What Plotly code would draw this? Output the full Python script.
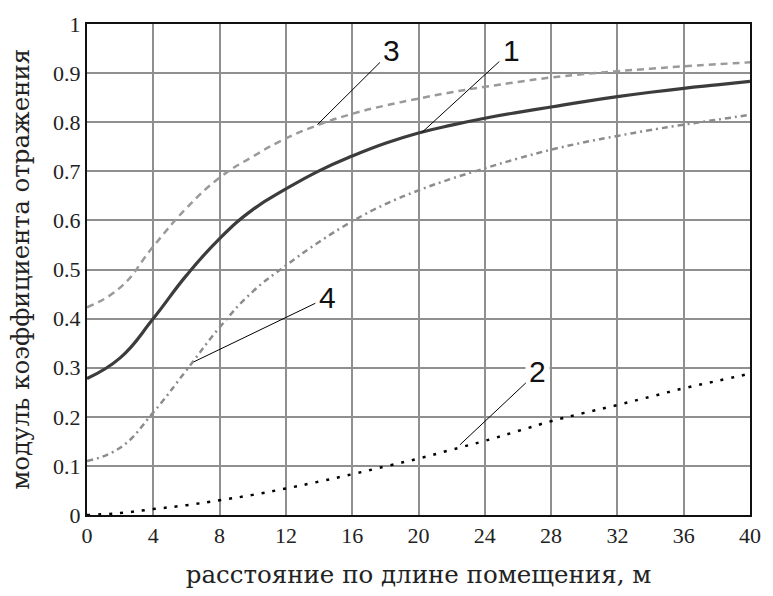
import plotly.graph_objects as go

x_m = [0, 2, 4, 6, 8, 10, 12, 14, 16, 18, 20, 22, 24, 26, 28, 30, 32, 34, 36, 38, 40]
curve1 = [0.278, 0.320, 0.40, 0.488, 0.563, 0.622, 0.664, 0.701, 0.731, 0.757, 0.778,
          0.794, 0.808, 0.820, 0.831, 0.842, 0.852, 0.861, 0.869, 0.876, 0.883]
curve2 = [0.0, 0.004, 0.012, 0.02, 0.03, 0.041, 0.054, 0.068, 0.083, 0.099, 0.115,
          0.133, 0.151, 0.171, 0.191, 0.208, 0.224, 0.241, 0.258, 0.273, 0.288]
curve3 = [0.423, 0.463, 0.547, 0.625, 0.687, 0.730, 0.767, 0.795, 0.817, 0.834, 0.848,
          0.861, 0.872, 0.882, 0.891, 0.898, 0.904, 0.909, 0.914, 0.918, 0.922]
curve4 = [0.110, 0.137, 0.209, 0.295, 0.382, 0.455, 0.508, 0.556, 0.598, 0.633, 0.661,
          0.685, 0.706, 0.726, 0.744, 0.759, 0.772, 0.784, 0.795, 0.805, 0.815]

x_ticks = [0, 4, 8, 12, 16, 20, 24, 28, 32, 36, 40]
y_ticks = [0, 0.1, 0.2, 0.3, 0.4, 0.5, 0.6, 0.7, 0.8, 0.9, 1]
y_tick_text = ["0", "0.1", "0.2", "0.3", "0.4", "0.5", "0.6", "0.7", "0.8", "0.9", "1"]

labels = ["1", "2", "3", "4"]
label_pts = [(20.2, 0.779), (22.5, 0.143), (13.9, 0.795), (6.45, 0.312)]
label_pos = [(25.6, 0.946), (27.2, 0.292), (18.4, 0.946), (14.5, 0.443)]

x_title = "расстояние по длине помещения, м"
y_title = "модуль коэффициента отражения"

fig = go.Figure()
fig.add_trace(go.Scatter(x=x_m, y=curve3, mode="lines",
                         line=dict(color="#9a9a9a", width=2.5, dash="7px,5px", shape="spline", smoothing=1.3)))
fig.add_trace(go.Scatter(x=x_m, y=curve4, mode="lines",
                         line=dict(color="#8c8c8c", width=2.5, dash="6px,4px,2px,4px", shape="spline", smoothing=1.3)))
fig.add_trace(go.Scatter(x=x_m, y=curve1, mode="lines",
                         line=dict(color="#3c3c3c", width=3.2, shape="spline", smoothing=1.3)))
fig.add_trace(go.Scatter(x=x_m, y=curve2, mode="lines",
                         line=dict(color="#000000", width=2.5, dash="3px,8px", shape="spline", smoothing=1.3)))

for t, (px, py), (ax, ay) in zip(labels, label_pts, label_pos):
    fig.add_annotation(x=px, y=py, ax=ax, ay=ay, axref="x", ayref="y", xref="x", yref="y",
                       text=t, showarrow=True, arrowhead=0, arrowwidth=1, arrowcolor="#000",
                       bgcolor="white", borderpad=3,
                       font=dict(family="Liberation Sans", size=30, color="#111"))

tick_font = dict(family="Liberation Serif", size=22, color="#222")
title_font = dict(family="DejaVu Serif", size=24.5, color="#222")
fig.add_annotation(text=y_title, xref="paper", yref="paper", x=-0.1006, y=0.5,
                   xanchor="center", yanchor="middle", textangle=-90, showarrow=False, font=title_font)
fig.update_xaxes(range=[0, 40], tickvals=x_ticks, showgrid=True, gridcolor="#8f8f8f", gridwidth=1.5,
                 showline=True, linecolor="#111", linewidth=2, mirror=True, zeroline=False,
                 ticks="", tickfont=tick_font,
                 title=dict(text=x_title, standoff=18, font=title_font))
fig.update_yaxes(range=[0, 1], tickvals=y_ticks, ticktext=y_tick_text, showgrid=True, gridcolor="#8f8f8f",
                 gridwidth=1.5, showline=True, linecolor="#111", linewidth=2, mirror=True, zeroline=False,
                 ticks="", tickfont=tick_font)
fig.update_layout(width=773, height=596, margin=dict(l=87, r=20, t=20, b=79),
                  plot_bgcolor="white", paper_bgcolor="white", showlegend=False)
fig.write_html("out.html")
